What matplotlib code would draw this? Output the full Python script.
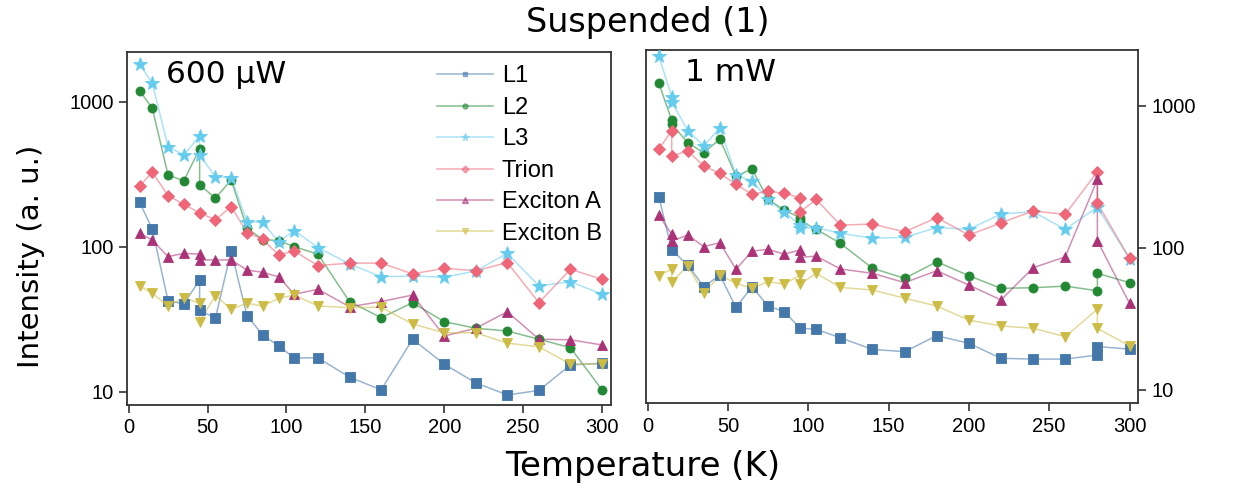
import matplotlib
matplotlib.use('Agg')
import matplotlib.pyplot as plt
from matplotlib.ticker import FixedLocator, FixedFormatter, NullLocator

plt.rcParams['font.family'] = ['DejaVu Sans']
TICKFONT = ['Liberation Sans', 'DejaVu Sans']

# ---- 600 uW panel ----
left_T = [7, 15, 25, 35, 45, 45, 55, 65, 75, 85, 95, 105, 120, 140, 160, 180, 200, 220, 240, 260, 280, 300]
left_T_trion = [7, 15, 25, 35, 45, 55, 65, 75, 85, 95, 105, 120, 140, 160, 180, 200, 220, 240, 260, 280, 300]

left_L1 = [202, 132, 42.3, 40.3, 58.9, 36.6, 32.1, 93.8, 33.4, 24.6, 20.7, 17.1, 17.1, 12.6, 10.3, 23, 15.5, 11.5, 9.5, 10.2, 15.3, 15.7]
left_L2 = [1186, 902, 312, 284, 472, 267, 216, 288, 134, 112, 110, 100, 88.7, 41.8, 32.4, 41, 30.4, 27.4, 26.2, 23, 20.1, 10.3]
left_L3 = [1811, 1340, 490, 428, 580, 428, 304, 299, 149, 147, 108, 129, 98.5, 76, 62, 62.8, 61.5, 68, 90, 53.6, 57.4, 47]
left_trion = [262, 326, 225, 196, 171, 153, 189, 125, 112.6, 87.7, 93.3, 74, 77, 77, 64.9, 71, 68.2, 77.6, 41.1, 69.8, 59.6]
left_excA = [124, 111, 85.3, 90, 88.7, 81, 81, 81, 69, 66.5, 62, 47, 50.8, 38.5, 41.8, 46.4, 24.2, 27.4, 35.6, 23, 22.8, 21]
left_excB = [53.5, 47.8, 39, 44.5, 40.7, 30.4, 46, 37, 40.7, 39, 44, 46.4, 39, 38, 38.2, 29.3, 25.5, 25.5, 21.6, 20.4, 15.5, 15.5]

# ---- 1 mW panel ----
right_T_L1 = [7, 15, 25, 35, 45, 55, 65, 75, 85, 95, 105, 120, 140, 160, 180, 200, 220, 240, 260, 280, 280, 300]
right_T_L3 = [7, 15, 15, 25, 35, 45, 55, 65, 75, 85, 95, 95, 105, 120, 140, 160, 180, 200, 220, 240, 260, 280, 300]
right_T = [7, 15, 15, 25, 35, 45, 55, 65, 75, 85, 95, 95, 105, 120, 140, 160, 180, 200, 220, 240, 260, 280, 280, 300]

right_L1 = [229, 96.6, 75.7, 53.2, 64.4, 38.1, 53.2, 39, 35.6, 27.2, 26.7, 23.3, 19.3, 18.6, 24.1, 21.3, 16.7, 16.5, 16.5, 17.6, 20.2, 19.4]
right_L2 = [1436, 792, 743, 548, 467, 582, 320, 358, 219, 184.5, 163, 155, 135, 107.6, 71.8, 61, 79.8, 63.7, 51.9, 52.4, 53.8, 49.9, 66.2, 56.9]
right_L3 = [2234, 1156, 1065, 667, 520, 700, 325, 295, 219, 178, 144.6, 137, 139, 126.5, 117, 118.5, 139, 135, 173, 179.5, 135, 193, 84]
right_trion = [495, 667, 443, 480, 376, 334, 280, 238, 250, 242, 225, 179.5, 219, 144.6, 147, 129.6, 163, 123, 150, 181.5, 172, 343, 206, 84.4]
right_excA = [170, 124.5, 111.6, 123, 102, 108.6, 70.6, 94.8, 97.6, 90.3, 96.6, 85.7, 87.5, 71, 66.2, 56.9, 69, 54.7, 43, 72.4, 86.5, 303, 112, 40.7]
right_excB = [63.4, 71, 57.8, 74.5, 47.9, 64.4, 56.2, 51.9, 57.8, 55.6, 64.4, 55.6, 66.2, 52.7, 50.5, 44.2, 39, 31, 28.2, 27.2, 23.7, 37, 27.2, 20.4]

labels = ['L1', 'L2', 'L3', 'Trion', 'Exciton A', 'Exciton B']
colors = ['#4477AA', '#228833', '#66CCEE', '#EE6677', '#AA3377', '#CCBB44']
markers = ['s', 'o', '*', 'D', '^', 'v']
msizes = [6.5, 6.5, 10, 6.5, 7.5, 7.5]

x_ticks = [0, 50, 100, 150, 200, 250, 300]
y_ticks = [10, 100, 1000]

fig = plt.figure(figsize=(12.38, 4.91), dpi=100)
ax1 = fig.add_axes([0.1026, 0.1752, 0.3907, 0.719])
ax2 = fig.add_axes([0.5218, 0.1786, 0.3977, 0.7196])

left_sets = [(left_T, left_L1), (left_T, left_L2), (left_T, left_L3),
             (left_T_trion, left_trion), (left_T, left_excA), (left_T, left_excB)]
right_sets = [(right_T_L1, right_L1), (right_T, right_L2), (right_T_L3, right_L3),
              (right_T, right_trion), (right_T, right_excA), (right_T, right_excB)]

for ax, sets in [(ax1, left_sets), (ax2, right_sets)]:
    for (t, v), lab, c, m, ms in zip(sets, labels, colors, markers, msizes):
        ax.plot(t, v, color=c, alpha=0.55, lw=1.1, zorder=2)
        ax.plot(t, v, ls='', marker=m, ms=ms, color=c, mec=c, mew=0.6, zorder=3)
        # legend proxy
        ax.plot([], [], color=c, alpha=0.55, lw=1.1, marker=m, ms=ms * 0.55,
                mfc=c, mec=c, label=lab)

for ax in (ax1, ax2):
    ax.set_yscale('log')
    ax.set_xlim(-1, 305.5)
    ax.xaxis.set_major_locator(FixedLocator(x_ticks))
    ax.yaxis.set_major_locator(FixedLocator(y_ticks))
    ax.yaxis.set_major_formatter(FixedFormatter([str(y) for y in y_ticks]))
    ax.yaxis.set_minor_locator(NullLocator())
    ax.tick_params(labelsize=14.5, length=6, width=1.2, color='#333333', direction='out')
    for lbl in ax.get_xticklabels() + ax.get_yticklabels():
        lbl.set_family(TICKFONT)
    for s in ax.spines.values():
        s.set_linewidth(1.3)
        s.set_color('#333333')

ax1.set_ylim(8.1, 2200)
ax2.set_ylim(8.06, 2465)
ax2.yaxis.tick_right()
for lbl in ax2.get_yticklabels():
    lbl.set_family(TICKFONT)

ax1.text(0.08, 0.935, '600 μW', transform=ax1.transAxes, fontsize=22.5, va='center', ha='left')
ax2.text(0.08, 0.935, '1 mW', transform=ax2.transAxes, fontsize=22.5, va='center', ha='left')

ax1.legend(loc='upper left', bbox_to_anchor=(0.597, 1.022), frameon=False,
           prop={'family': TICKFONT, 'size': 17},
           handlelength=2.35, labelspacing=0.4, handletextpad=0.4)

fig.text(0.523, 0.955, 'Suspended (1)', ha='center', va='center', fontsize=24)
fig.text(0.519, 0.05, 'Temperature (K)', ha='center', va='center', fontsize=24.5)
fig.text(0.025, 0.477, 'Intensity (a. u.)', ha='center', va='center', fontsize=21, rotation=90)

fig.savefig('out.png', dpi=100)
